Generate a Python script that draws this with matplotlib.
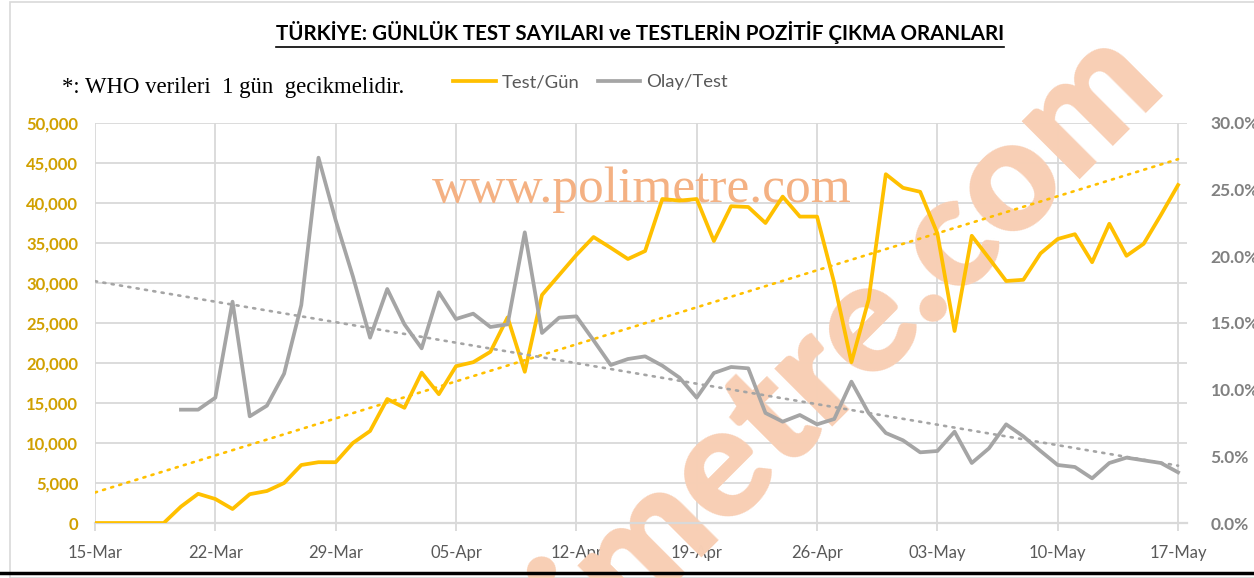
import numpy as np
import pandas as pd
import matplotlib
matplotlib.use("Agg")
import matplotlib.pyplot as plt
import matplotlib.dates as mdates
from matplotlib.lines import Line2D
from matplotlib.patches import Rectangle

# data
dates = pd.date_range("2020-03-15", "2020-05-17", freq="D")

test_per_day = [0, 0, 0, 0, 0, 2050, 3650, 3000, 1750, 3600, 4000,
                5000, 7250, 7600, 7600, 10000, 11500,
                15500, 14400, 18800, 16100, 19600, 20100,
                21400, 25700, 18900, 28500, 31000, 33500,
                35750, 34400, 33000, 34000, 40500, 40300,
                40500, 35250, 39600, 39500, 37500, 40800,
                38300, 38300, 30000, 20100, 27900, 43600,
                41900, 41400, 36200, 24000, 35900, 33100,
                30250, 30400, 33700, 35500, 36100, 32600,
                37400, 33400, 34900, 38500, 42250]

olay_per_test = [np.nan] * 5 + [
    8.5, 8.5, 9.4, 16.6, 8.0, 8.8,
    11.2, 16.35, 27.4, 22.7, 18.5, 13.9,
    17.55, 14.9, 13.1, 17.3, 15.3, 15.7,
    14.7, 14.9, 21.8, 14.25, 15.4, 15.5,
    13.7, 11.85, 12.3, 12.5, 11.8, 10.9,
    9.4, 11.25, 11.7, 11.6, 8.25, 7.6,
    8.1, 7.4, 7.8, 10.6, 8.25, 6.75,
    6.2, 5.3, 5.4, 6.85, 4.5, 5.6,
    7.4, 6.5, 5.4, 4.35, 4.2, 3.35,
    4.5, 4.9, 4.7, 4.5, 3.8]

title = "TÜRKİYE: GÜNLÜK TEST SAYILARI ve TESTLERİN POZİTİF ÇIKMA ORANLARI"
note = "*: WHO verileri  1 gün  gecikmelidir."
labels = ["Test/Gün", "Olay/Test"]

YELLOW = "#FFC000"
GRAY = "#A5A5A5"
GRID = "#D9D9D9"
SANS = "Lato"

test = np.array(test_per_day, dtype=float)
olay = np.array(olay_per_test, dtype=float)
xnum = mdates.date2num(dates)

fig = plt.figure(figsize=(12.54, 5.78), dpi=100)
ax = fig.add_axes([95 / 1254, 55 / 578, 1092 / 1254, 400 / 578])
ax2 = ax.twinx()
ax.set_zorder(1)
ax2.set_zorder(2)
ax.patch.set_visible(False)
ax2.patch.set_visible(False)

# trendlines (linear fit, like excel)
k1 = np.polyfit(xnum, test, 1)
ok = ~np.isnan(olay)
k2 = np.polyfit(xnum[ok], olay[ok], 1)

ax.plot(dates, np.polyval(k1, xnum), color=YELLOW, lw=1.9, ls=(0, (0.8, 2.4)),
        dash_capstyle="round", zorder=3)
l1, = ax.plot(dates, test, color=YELLOW, lw=2.7, zorder=4, solid_joinstyle="round")
ax2.plot(dates, np.polyval(k2, xnum), color=GRAY, lw=1.9, ls=(0, (0.8, 2.4)),
         dash_capstyle="round", zorder=3)
l2, = ax2.plot(dates, olay, color=GRAY, lw=2.7, zorder=4, solid_joinstyle="round")

ax.set_xlim(xnum[0], xnum[0] + 63.52)
ax.set_ylim(0, 50000)
ax2.set_ylim(0, 30)
ax.set_yticks(np.arange(0, 50001, 5000))
ax2.set_yticks(np.arange(0, 30.1, 5))
ax.yaxis.set_major_formatter(matplotlib.ticker.FuncFormatter(lambda v, p: f"{v:,.0f}"))
ax2.yaxis.set_major_formatter(matplotlib.ticker.FuncFormatter(lambda v, p: f"{v:.1f}%"))
ax.set_xticks(dates[::7])
ax.xaxis.set_major_formatter(mdates.DateFormatter("%d-%b"))

ax.grid(True, color=GRID, lw=1.3, zorder=0)
ax.set_axisbelow(True)
for a in (ax, ax2):
    for s in a.spines.values():
        s.set_visible(False)
ax.spines["bottom"].set_visible(True)
ax.spines["bottom"].set_color(GRID)
ax.spines["bottom"].set_linewidth(1.6)

ax.tick_params(axis="x", length=6, width=1.3, color=GRID, pad=10,
               labelsize=12, labelcolor="#595959")
ax.tick_params(axis="y", length=0, pad=12, labelsize=12, labelcolor="#D1A000")
ax2.tick_params(axis="y", length=0, pad=17, labelsize=12.5, labelcolor="#808080")
for t in ax.get_xticklabels():
    t.set_fontfamily(SANS)
for t in ax.get_yticklabels():
    t.set_fontfamily(SANS)
    t.set_fontweight("bold")
for t in ax2.get_yticklabels():
    t.set_fontfamily(SANS)
    t.set_fontweight("bold")

# watermarks
ax.text(642 / 1254, 1 - 190 / 578, "www.polimetre.com", transform=fig.transFigure,
        ha="center", va="center", fontsize=37, color="#F4B183",
        fontfamily="Liberation Serif", zorder=1, clip_on=False)
ax.text(772 / 1254, 1 - 414 / 578, "polimetre.com", transform=fig.transFigure,
        rotation=45, rotation_mode="anchor", ha="center", va="center",
        fontsize=113, color="#F8CFB5", fontfamily=SANS, fontweight="heavy",
        zorder=1, clip_on=False)

# title, note, legend
tt = fig.text(640 / 1254, 1 - 33 / 578, title, ha="center", va="center",
              fontsize=14.75, fontweight="bold", fontfamily=SANS, color="black")
fig.text(62 / 1254, 1 - 87 / 578, note, ha="left", va="center", fontsize=16.4,
         fontfamily="Liberation Serif", color="black")
fig.legend([l1, l2], labels, ncol=2, frameon=False, loc="center left",
           bbox_to_anchor=(446 / 1254, 1 - 82 / 578), handlelength=2.3,
           handletextpad=0.3, columnspacing=1.0, borderaxespad=0,
           prop={"family": SANS, "size": 13.3}, labelcolor="#595959")

# chart frame + bottom rule
fig.add_artist(Rectangle((10 / 1254, 0.0), 1.2, 1 - 2 / 578, transform=fig.transFigure,
                         fill=False, edgecolor=GRID, lw=1.2))
fig.add_artist(Line2D([0, 1], [1 - 573 / 578] * 2, transform=fig.transFigure,
                      color="black", lw=2.5))

fig.canvas.draw()
bb = tt.get_window_extent().transformed(fig.transFigure.inverted())
fig.add_artist(Line2D([bb.x0, bb.x1], [bb.y0 - 0.004] * 2, transform=fig.transFigure,
                      color="black", lw=1.2))

fig.savefig("out.png", dpi=100)
